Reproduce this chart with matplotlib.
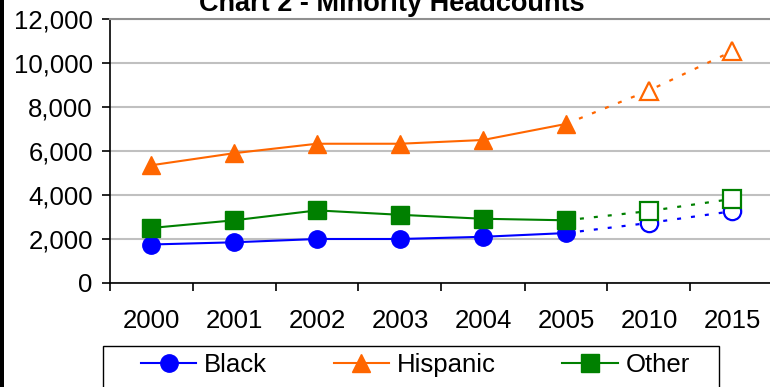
import matplotlib
matplotlib.use("Agg")
import matplotlib.pyplot as plt
from matplotlib.patches import Rectangle
from matplotlib.lines import Line2D

plt.rcParams['font.family'] = ['Liberation Sans', 'DejaVu Sans']

years = ['2000', '2001', '2002', '2003', '2004', '2005', '2010', '2015']
black = [1750, 1850, 2000, 2000, 2100, 2270, 2730, 3260]
hispanic = [5350, 5900, 6330, 6330, 6500, 7230, 8750, 10530]
other = [2500, 2850, 3300, 3100, 2920, 2850, 3270, 3820]
n_actual = 6  # 2000-2005 are actual, later years are projections

series = [
    ('Black', black, '#0000ff', 'o'),
    ('Hispanic', hispanic, '#ff6600', '^'),
    ('Other', other, '#008000', 's'),
]

W, H = 770, 387
fig = plt.figure(figsize=(W / 100, H / 100), dpi=100)
ax = fig.add_axes([109.5 / W, (H - 283) / H, 664 / W, 264 / H])

x = [i + 0.5 for i in range(len(years))]
for name, vals, col, mk in series:
    ax.plot(x[:n_actual], vals[:n_actual], color=col, lw=1.5, marker=mk,
            ms=12.5, mec=col, mfc=col, zorder=3, label=name)
    ax.plot(x[n_actual - 1:], vals[n_actual - 1:], color=col, lw=1.6,
            linestyle=(0, (1.8, 4.5)), zorder=2)
    ax.plot(x[n_actual:], vals[n_actual:], linestyle='none', marker=mk,
            ms=12.5, mec=col, mfc='white', mew=1.6, zorder=3)

ax.set_xlim(0, len(years))
ax.set_ylim(0, 12000)
ax.set_yticks(range(0, 12001, 2000))
ax.set_yticklabels([f'{v:,}' for v in range(0, 12001, 2000)])
ax.set_xticks(x)
ax.set_xticklabels(years)
ax.set_xticks(range(0, len(years) + 1), minor=True)
ax.tick_params(axis='x', which='major', length=0, pad=19, labelsize=18.5)
ax.tick_params(axis='x', which='minor', length=6, width=1.2, direction='out')
ax.tick_params(axis='y', length=6, width=1.2, direction='out', pad=6, labelsize=18.5)

ax.grid(axis='y', color='#c0c0c0', lw=1.5)
ax.set_axisbelow(True)
for s in ['left', 'bottom']:
    ax.spines[s].set_color('black')
    ax.spines[s].set_linewidth(1.2)
ax.spines['top'].set_color('#909090')
ax.spines['top'].set_linewidth(1.5)
ax.spines['right'].set_visible(False)

fig.text(392 / W, 1 - 11 / H, 'Chart 2 - Minority Headcounts', ha='center',
         va='baseline', fontsize=19.5, fontweight='bold')

# legend box
fig.patches.append(Rectangle((103 / W, -0.05), 616 / W, (H - 346) / H + 0.05,
                             transform=fig.transFigure, fill=False,
                             edgecolor='black', lw=1))
handles = [Line2D([], [], color=c, lw=1.5, marker=m, ms=12.5, mec=c, mfc=c)
           for _, _, c, m in series]
fig.legend(handles, [s[0] for s in series], loc='center left',
           bbox_to_anchor=(141 / W, 1 - 365 / H), ncol=3, frameon=False,
           fontsize=18.5, borderpad=0, borderaxespad=0, handlelength=2.15,
           handletextpad=0.3, columnspacing=2.6)

# chart border on the left edge
fig.patches.append(Rectangle((0, 0), 4 / W, 1, transform=fig.transFigure,
                             color='black', lw=0))

fig.savefig('out.png', dpi=100)
